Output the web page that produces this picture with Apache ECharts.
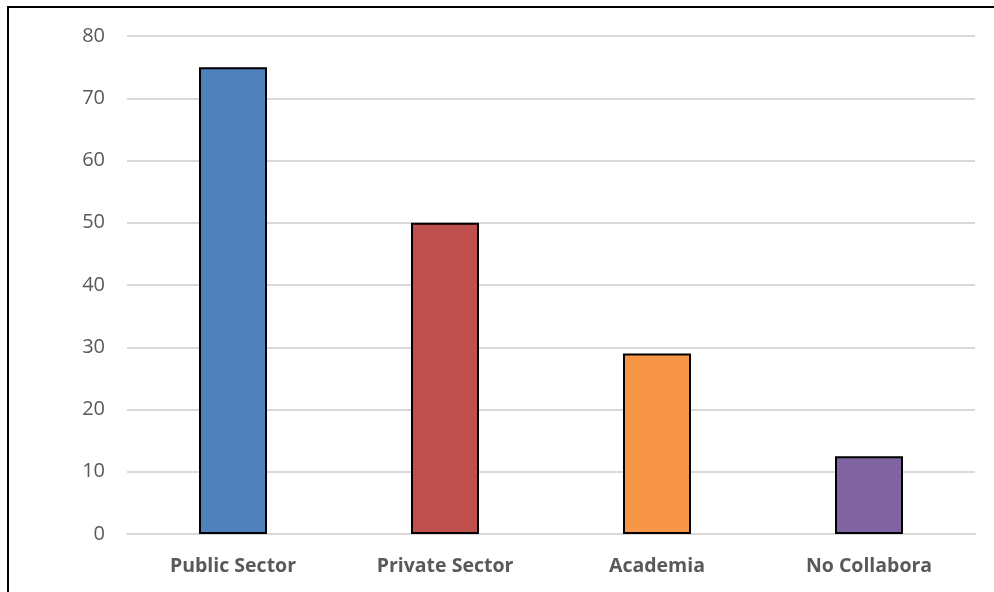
<!DOCTYPE html>
<html><head><meta charset="utf-8">
<script src="https://cdn.jsdelivr.net/npm/echarts@6/dist/echarts.min.js"></script>
<style>html,body{margin:0;padding:0;background:#fff}#c{width:994px;height:592px}</style>
</head><body><div id="c"></div>
<script>
var categories = ['Public Sector', 'Private Sector', 'Academia', 'No Collabora'];
var values = [75, 50, 29, 12.5];
var colors = ['#4F81BD', '#C0504D', '#F79646', '#8064A2'];
var yTicks = [0, 10, 20, 30, 40, 50, 60, 70, 80];

var chart = echarts.init(document.getElementById('c'));
chart.setOption({
  animation: false,
  graphic: [{
    type: 'rect', silent: true,
    shape: { x: 8, y: 7, width: 1200, height: 1000 },
    style: { fill: 'none', stroke: '#000', lineWidth: 2 }
  }],
  grid: { left: 127, right: 19, top: 36, bottom: 58 },
  xAxis: {
    type: 'category', data: categories,
    axisLine: { show: true, lineStyle: { color: '#D9D9D9', width: 2 } },
    axisTick: { show: false },
    axisLabel: { color: '#595959', fontSize: 19.5, fontWeight: 'bold', fontFamily: 'Open Sans', margin: 22 }
  },
  yAxis: {
    type: 'value', min: 0, max: 80, interval: 10,
    axisLine: { show: false }, axisTick: { show: false },
    splitLine: { lineStyle: { color: '#D9D9D9', width: 2 } },
    axisLabel: { color: '#595959', fontSize: 20, fontFamily: 'Open Sans', margin: 22,
      formatter: function (v) { return yTicks.indexOf(v) >= 0 ? String(v) : ''; } }
  },
  series: [{
    type: 'bar', barWidth: 68,
    data: values.map(function (v, i) {
      return { value: v, itemStyle: { color: colors[i], borderColor: '#000', borderWidth: 2 } };
    })
  }]
});
</script></body></html>
